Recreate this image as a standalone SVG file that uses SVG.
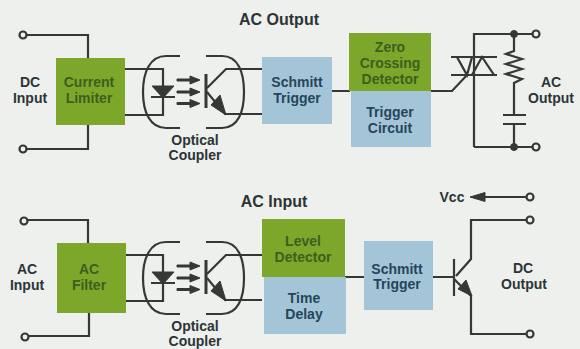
<svg xmlns="http://www.w3.org/2000/svg" width="580" height="349" viewBox="0 0 580 349">
<style>
text{font-family:"Liberation Sans",Arial,sans-serif;font-weight:700;font-size:14px;text-anchor:middle;fill:#2b3538}
.t{font-size:16px;fill:#2c3436}
.g{fill:#3c5f1e}
.b{fill:#24465a}
.gb{fill:#7da72b}
.bb{fill:#a4c4d8}
.w{fill:none;stroke:#353835;stroke-width:2.2}
.c{fill:#edf0ec;stroke:#353835;stroke-width:2.2}
.f{fill:#353835;stroke:#353835;stroke-width:1}
</style>
<defs>
<g id="coupler">
<path class="w" d="M180,56H166C150,56 143,72 143,92C143,112 150,128 166,128H180M206,56H222C238,56 244,72 244,92C244,112 238,128 222,128H206"/>
<path class="w" d="M122,69H163V115H122M151,97H175M207,88L226,69H262M207,92L225,114H262"/>
<path class="w" style="stroke-width:3" d="M206,74V108"/>
<path class="f" d="M152,86H174L163,98Z"/>
<path class="f" d="M177,79L190,79L190,76L200,80L190,84L190,81L177,81ZM177,91L190,91L190,88L200,92L190,96L190,93L177,93ZM177,102.500L190,102.500L190,99.500L200,103.500L190,107.500L190,104.500L177,104.500Z"/>
<path class="f" d="M226,115L211,105L220,95Z"/>
</g>
</defs>
<rect width="580" height="349" fill="#edf0ec"/>
<g id="connectors">
<g id="top-wires">
<path class="w" d="M26,35H88V58M26,149H88V125"/>
<path class="w" d="M331,91H350M429,91H452L468,74"/>
<path class="w" d="M474,147V34H533M451,57H497M451,75H497M514,34V51L506,54L522,59L506,64L522,69L506,74L522,79L514,83V115M503,115H526M503,124H526M514,124V147M474,147H533"/>
<path class="w" d="M457,57H472L467,75ZM482,57L472,75H494Z"/>
<circle class="f" cx="514" cy="34" r="3.500"/>
<circle class="f" cx="514" cy="147" r="3.500"/>
</g>
<use href="#coupler"/>
<use href="#coupler" transform="translate(0,186)"/>
<g id="bottom-wires">
<path class="w" d="M27,220H88V243M27,336H89V313"/>
<path class="w" d="M345,277H364M431,277H454M454,279L471,296V334H527M456,276L471,259V220H527M527,197H480"/>
<path class="w" d="M454,259V296"/>
<path class="f" d="M472,296L458,289L466,280Z"/>
<path class="f" d="M470,197L485,192.500V201.500Z"/>
</g>
<circle class="c" cx="23" cy="35" r="3.500"/>
<circle class="c" cx="23" cy="149" r="3.500"/>
<circle class="c" cx="536" cy="34" r="3.500"/>
<circle class="c" cx="536" cy="147" r="3.500"/>
<circle class="c" cx="24" cy="221" r="3.500"/>
<circle class="c" cx="25" cy="337" r="3.500"/>
<circle class="c" cx="530" cy="197" r="3.500"/>
<circle class="c" cx="530" cy="220" r="3.500"/>
<circle class="c" cx="530" cy="334" r="3.500"/>
</g>
<g id="current-limiter"><rect class="gb" x="56" y="58" width="69" height="67"/><text class="g" x="89" y="87">Current</text><text class="g" x="89" y="103">Limiter</text></g>
<g id="schmitt-1"><rect class="bb" x="262" y="57" width="70" height="67"/><text class="b" x="297" y="87">Schmitt</text><text class="b" x="297" y="103">Trigger</text></g>
<g id="zero-crossing"><rect class="gb" x="349" y="33" width="82" height="58"/><text class="g" x="390" y="52">Zero</text><text class="g" x="390" y="68">Crossing</text><text class="g" x="390" y="84">Detector</text></g>
<g id="trigger-circuit"><rect class="bb" x="351" y="91" width="80" height="56"/><text class="b" x="390" y="117">Trigger</text><text class="b" x="390" y="133">Circuit</text></g>
<g id="ac-filter"><rect class="gb" x="57" y="243" width="69" height="70"/><text class="g" x="89" y="274">AC</text><text class="g" x="89" y="290">Filter</text></g>
<g id="level-detector"><rect class="gb" x="262" y="219" width="83" height="58"/><text class="g" x="303" y="246">Level</text><text class="g" x="303" y="262">Detector</text></g>
<g id="time-delay"><rect class="bb" x="264" y="277" width="82" height="57"/><text class="b" x="304" y="303">Time</text><text class="b" x="304" y="319">Delay</text></g>
<g id="schmitt-2"><rect class="bb" x="364" y="241" width="69" height="69"/><text class="b" x="397" y="274">Schmitt</text><text class="b" x="397" y="289">Trigger</text></g>
<g id="labels">
<text class="t" x="279" y="25">AC Output</text>
<text class="t" x="274" y="207">AC Input</text>
<text x="30" y="87">DC</text><text x="30" y="103">Input</text>
<text x="195" y="145">Optical</text><text x="195" y="160">Coupler</text>
<text x="551" y="87">AC</text><text x="551" y="103">Output</text>
<text x="27" y="274">AC</text><text x="27" y="290">Input</text>
<text x="195" y="331">Optical</text><text x="195" y="346">Coupler</text>
<text x="452" y="202">Vcc</text>
<text x="523" y="273">DC</text><text x="524" y="289">Output</text>
</g>
</svg>
